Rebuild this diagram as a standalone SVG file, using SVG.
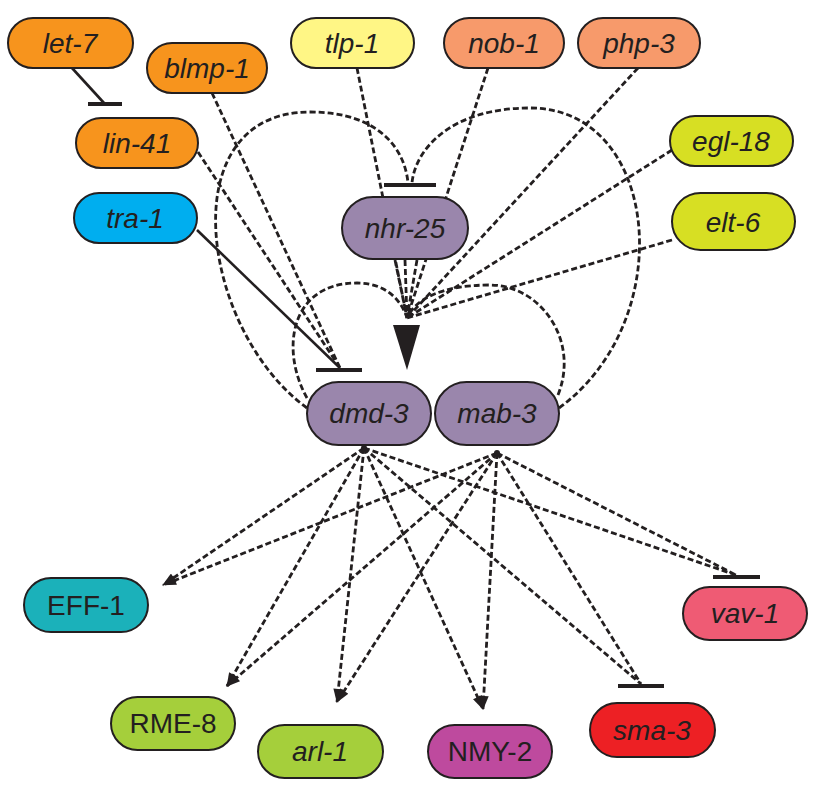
<svg xmlns="http://www.w3.org/2000/svg" width="819" height="800" viewBox="0 0 819 800">
<style>
.n rect{stroke:#231F20;stroke-width:2}
.n text{font-family:"Liberation Sans",Arial,sans-serif;font-size:28px;font-style:italic;text-anchor:middle;fill:#231F20}
.n text.u{font-style:normal}
.d{fill:none;stroke:#231F20;stroke-width:2.8;stroke-dasharray:6,3}
.s{fill:none;stroke:#231F20;stroke-width:2.6}
.b{stroke:#231F20;stroke-width:4}
</style>
<defs>
<marker id="a" viewBox="0 0 14 10" refX="13" refY="5" markerWidth="15" markerHeight="10" markerUnits="userSpaceOnUse" orient="auto"><path d="M0,0 L14,5 L0,10 Z" fill="#231F20"/></marker>
</defs>
<rect width="819" height="800" fill="#fff"/>
<g id="connectors">
<line class="s" x1="72" y1="68" x2="104" y2="103"/>
<line class="b" x1="88" y1="104" x2="122" y2="104"/>
<path class="d" d="M357,68 L407,318 M488,68 L407,318 M638,68 L407,318 M672,150 L407,318 M672,240 L407,318 M395,260 L407,318 M405,260 L407,318 M417,260 L407,318"/>
<path class="d" d="M212,93 L340,368 M198,152 L340,368"/>
<line class="s" x1="197" y1="230" x2="340" y2="368"/>
<line class="b" x1="316" y1="370" x2="362" y2="370"/>
<path class="d" d="M307,408 C200,330 170,112 310,112 C380,112 405,150 408,183"/>
<path class="d" d="M559,408 C680,320 660,108 530,108 C450,108 415,150 412,183"/>
<line class="b" x1="384" y1="185" x2="436" y2="185"/>
<path class="d" d="M307,398 C280,350 290,283 357,283 C390,283 403,305 407,318"/>
<path class="d" d="M558,395 C580,340 540,285 490,285 C440,285 415,300 407,318"/>
<path d="M393,325 L420,325 L407,370 Z" fill="#231F20"/>
<g class="d" marker-end="url(#a)">
<line x1="364" y1="448" x2="163" y2="585"/>
<line x1="497" y1="453" x2="163" y2="585"/>
<line x1="364" y1="448" x2="227" y2="686"/>
<line x1="497" y1="453" x2="227" y2="686"/>
<line x1="364" y1="448" x2="337" y2="702"/>
<line x1="497" y1="453" x2="337" y2="702"/>
<line x1="364" y1="448" x2="483" y2="709"/>
<line x1="497" y1="453" x2="483" y2="709"/>
</g>
<path class="d" d="M364,448 L641,684 M497,453 L641,684 M364,448 L736,575 M497,453 L736,575"/>
<line class="b" x1="618" y1="686" x2="664" y2="686"/>
<line class="b" x1="713" y1="577" x2="760" y2="577"/>
<circle cx="364" cy="448" r="3" fill="#231F20"/>
<circle cx="497" cy="453" r="3" fill="#231F20"/>
</g>
<g id="let-7" class="n"><rect x="8" y="18" width="125" height="50" rx="25" fill="#F7941D"/><text x="70" y="53">let-7</text></g>
<g id="blmp-1" class="n"><rect x="147" y="43" width="120" height="50" rx="25" fill="#F7941D"/><text x="207" y="78">blmp-1</text></g>
<g id="tlp-1" class="n"><rect x="291" y="18" width="123" height="50" rx="25" fill="#FFF685"/><text x="352" y="53">tlp-1</text></g>
<g id="nob-1" class="n"><rect x="444" y="18" width="120" height="50" rx="25" fill="#F79A6B"/><text x="504" y="53">nob-1</text></g>
<g id="php-3" class="n"><rect x="578" y="18" width="122" height="50" rx="25" fill="#F79A6B"/><text x="639" y="53">php-3</text></g>
<g id="lin-41" class="n"><rect x="76" y="118" width="122" height="50" rx="25" fill="#F7941D"/><text x="137" y="153">lin-41</text></g>
<g id="egl-18" class="n"><rect x="670" y="116" width="123" height="50" rx="25" fill="#D7DF23"/><text x="731" y="151">egl-18</text></g>
<g id="tra-1" class="n"><rect x="74" y="193" width="123" height="50" rx="25" fill="#00AEEF"/><text x="135" y="228">tra-1</text></g>
<g id="nhr-25" class="n"><rect x="342" y="197" width="126" height="62" rx="31" fill="#9A86AC"/><text x="405" y="238">nhr-25</text></g>
<g id="elt-6" class="n"><rect x="672" y="193" width="123" height="57" rx="28.5" fill="#D7DF23"/><text x="733" y="232">elt-6</text></g>
<g id="dmd-3" class="n"><rect x="307" y="382" width="124" height="63" rx="31.5" fill="#9A86AC"/><text x="369" y="423">dmd-3</text></g>
<g id="mab-3" class="n"><rect x="435" y="382" width="124" height="63" rx="31.5" fill="#9A86AC"/><text x="497" y="423">mab-3</text></g>
<g id="EFF-1" class="n"><rect x="24" y="578" width="124" height="54" rx="27" fill="#1BB1BA"/><text class="u" x="86" y="615">EFF-1</text></g>
<g id="vav-1" class="n"><rect x="683" y="587" width="124" height="53" rx="26.5" fill="#EF5B74"/><text x="745" y="623">vav-1</text></g>
<g id="RME-8" class="n"><rect x="111" y="697" width="124" height="53" rx="26.5" fill="#A5CF3B"/><text class="u" x="173" y="733">RME-8</text></g>
<g id="arl-1" class="n"><rect x="258" y="725" width="125" height="53" rx="26.5" fill="#A5CF3B"/><text x="320" y="761">arl-1</text></g>
<g id="NMY-2" class="n"><rect x="428" y="725" width="124" height="53" rx="26.5" fill="#BE4A9E"/><text class="u" x="490" y="761">NMY-2</text></g>
<g id="sma-3" class="n"><rect x="590" y="703" width="125" height="54" rx="27" fill="#ED2024"/><text x="652" y="740">sma-3</text></g>
</svg>
